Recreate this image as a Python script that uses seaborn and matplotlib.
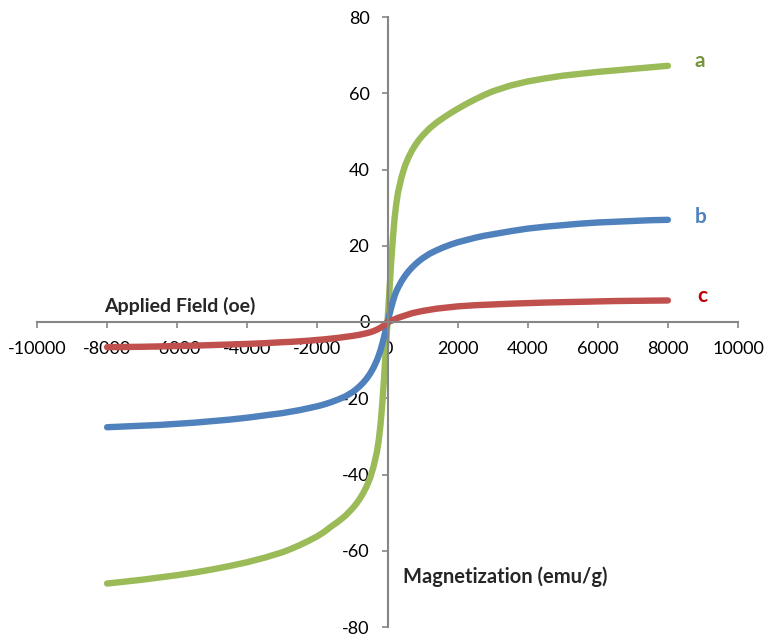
import matplotlib
matplotlib.use("Agg")
import matplotlib.pyplot as plt
import seaborn as sns
import pandas as pd

# Applied field (oe)
field = [-8000, -7500, -7000, -6500, -6000, -5500, -5000, -4500, -4000, -3500,
         -3000, -2750, -2500, -2250, -2000, -1800, -1600, -1400, -1200, -1000,
         -900, -800, -700, -600, -500, -400, -300, -250, -200, -150, -100, -50,
         0,
         50, 100, 150, 200, 250, 300, 400, 500, 600, 700, 800, 900, 1000,
         1200, 1400, 1600, 1800, 2000, 2250, 2500, 2750, 3000, 3500, 4000,
         4500, 5000, 5500, 6000, 6500, 7000, 7500, 8000]

# Magnetization (emu/g) of the three samples
mag_a = [-68.6, -68.1, -67.6, -67.0, -66.4, -65.7, -64.9, -64.0, -63.0, -61.8,
         -60.4, -59.5, -58.5, -57.4, -56.2, -55.0, -53.6, -52.3, -50.8, -48.9,
         -47.8, -46.5, -45.0, -43.2, -41.0, -38.0, -34.0, -31.0, -27.0, -21.5,
         -15.0, -7.5,
         0.0,
         7.5, 15.0, 21.5, 27.0, 31.0, 34.0, 38.0, 41.0, 43.2, 45.0, 46.5, 47.8,
         48.9, 50.8, 52.3, 53.6, 54.8, 55.9, 57.2, 58.4, 59.5, 60.5, 62.0, 63.1,
         63.9, 64.6, 65.1, 65.6, 66.0, 66.4, 66.8, 67.2]
mag_b = [-27.6, -27.4, -27.2, -27.0, -26.7, -26.4, -26.0, -25.6, -25.1, -24.5,
         -23.9, -23.5, -23.1, -22.6, -22.1, -21.6, -21.0, -20.3, -19.5, -18.4,
         -17.7, -16.9, -16.0, -14.9, -13.6, -12.0, -10.0, -8.8, -7.4, -5.8,
         -4.0, -2.0,
         0.0,
         1.8, 3.6, 5.3, 6.8, 8.0, 9.0, 10.7, 12.1, 13.3, 14.3, 15.2, 16.0,
         16.7, 17.9, 18.8, 19.6, 20.3, 20.9, 21.5, 22.1, 22.6, 23.0, 23.8, 24.5,
         25.0, 25.4, 25.8, 26.1, 26.3, 26.5, 26.7, 26.8]
mag_c = [-6.6, -6.55, -6.5, -6.4, -6.3, -6.2, -6.05, -5.9, -5.75, -5.55,
         -5.3, -5.2, -5.05, -4.9, -4.7, -4.55, -4.35, -4.15, -3.9, -3.65,
         -3.5, -3.35, -3.15, -2.95, -2.7, -2.4, -2.0, -1.75, -1.5, -1.2,
         -0.9, -0.5,
         0.0,
         0.15, 0.3, 0.5, 0.7, 0.9, 1.1, 1.4, 1.7, 2.0, 2.3, 2.5, 2.7,
         2.9, 3.2, 3.5, 3.7, 3.9, 4.1, 4.25, 4.4, 4.5, 4.6, 4.8, 4.95,
         5.1, 5.2, 5.3, 5.4, 5.5, 5.55, 5.6, 5.65]

samples = ["a", "b", "c"]
line_colors = ["#9BBB59", "#4F81BD", "#C0504D"]
label_colors = ["#77933C", "#4F81BD", "#C00000"]

x_ticks = [-10000, -8000, -6000, -4000, -2000, 0, 2000, 4000, 6000, 8000, 10000]
y_ticks = [-80, -60, -40, -20, 0, 20, 40, 60, 80]

df = pd.concat([
    pd.DataFrame({"field": field, "mag": m, "sample": s})
    for s, m in zip(samples, [mag_a, mag_b, mag_c])
], ignore_index=True)

sns.set_theme(style="white")
plt.rcParams["font.family"] = ["Lato", "DejaVu Sans"]

fig = plt.figure(figsize=(7.66, 6.35), dpi=100)
ax = fig.add_axes([37 / 766, 8 / 635, 701 / 766, 610 / 635])

sns.lineplot(data=df, x="field", y="mag", hue="sample", hue_order=samples,
             palette=line_colors, linewidth=4.6, legend=False, sort=True,
             estimator=None, ax=ax, solid_capstyle="round",
             solid_joinstyle="round")

ax.set_xlim(-10000, 10000)
ax.set_ylim(-80, 80)
ax.set_xticks(x_ticks)
ax.set_yticks(y_ticks)
ax.set_xticklabels([str(v) for v in x_ticks])
ax.set_yticklabels([str(v) for v in y_ticks])
ax.set_xlabel("")
ax.set_ylabel("")

axis_gray = "#868686"
for side in ["top", "right"]:
    ax.spines[side].set_visible(False)
ax.spines["left"].set_position(("data", 0))
ax.spines["bottom"].set_position(("data", 0))
for side in ["left", "bottom"]:
    ax.spines[side].set_color(axis_gray)
    ax.spines[side].set_linewidth(1.5)

ax.tick_params(axis="both", which="major", direction="out", length=4,
               width=1.2, color=axis_gray, labelsize=13, labelcolor="black")
ax.tick_params(axis="y", pad=9)
ax.tick_params(axis="x", pad=10)
ax.tick_params(bottom=True, left=True)

# Series labels
label_pos = [(8900, 68.5), (8930, 27.5), (8990, 6.8)]
for s, c, (lx, ly) in zip(samples, label_colors, label_pos):
    ax.text(lx, ly, s, color=c, fontsize=15, fontweight="bold",
            ha="center", va="center")

# Axis titles
ax.text(-5930, 4.2, "Applied Field (oe)", fontsize=14, fontweight="bold",
        ha="center", va="center")
ax.text(3360, -66.9, "Magnetization (emu/g)", fontsize=14.5, fontweight="bold",
        ha="center", va="center")

fig.savefig("out.png", dpi=100)
